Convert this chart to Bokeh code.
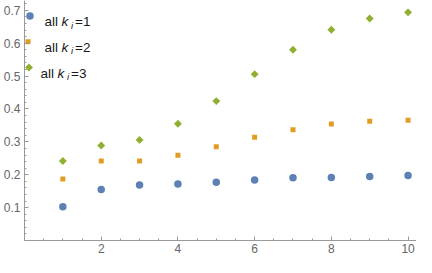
from bokeh.plotting import figure
from bokeh.models import FixedTicker, Range1d, Label
from bokeh.embed import file_html
from bokeh.resources import INLINE
import math

# ---- data ----
n_values = [1, 2, 3, 4, 5, 6, 7, 8, 9, 10]
k1_values = [0.103, 0.155, 0.169, 0.172, 0.177, 0.184, 0.191, 0.192, 0.195, 0.198]
k2_values = [0.187, 0.242, 0.242, 0.259, 0.285, 0.314, 0.337, 0.354, 0.363, 0.366]
k3_values = [0.242, 0.289, 0.306, 0.355, 0.424, 0.506, 0.580, 0.641, 0.675, 0.694]
k_labels = ["1", "2", "3"]
x_ticks = [2, 4, 6, 8, 10]
y_ticks = [0.1, 0.2, 0.3, 0.4, 0.5, 0.6, 0.7]

# ---- styles ----
colors = ["#5E81B5", "#E19C24", "#8FB032"]
FONT = "Liberation Sans"
AXIS_COLOR = "#9a9a9a"
LABEL_COLOR = "#666666"

W, H = 416, 257
BL, BB = 22, 17
X0, X1, Y0, Y1 = 0, 10.22, 0, 0.73

p = figure(width=W, height=H, output_backend="svg", toolbar_location=None,
           x_range=Range1d(X0, X1), y_range=Range1d(Y0, Y1),
           min_border_left=BL, min_border_right=0, min_border_top=0,
           min_border_bottom=BB)
p.outline_line_color = None
p.xgrid.visible = False
p.ygrid.visible = False
p.background_fill_color = "white"
p.border_fill_color = "white"

series = [k1_values, k2_values, k3_values]
marker_styles = [dict(marker="circle", size=7.5, angle=0),
                 dict(marker="square", size=5, angle=0),
                 dict(marker="square", size=5.6, angle=math.pi / 4)]
for vals, col, ms in zip(series, colors, marker_styles):
    p.scatter(n_values, vals, fill_color=col, line_color=None, **ms)

x_minor = [i * 0.5 for i in range(0, 21)]
y_minor = [i * 0.02 for i in range(0, 37)]
p.xaxis.ticker = FixedTicker(ticks=x_ticks, minor_ticks=x_minor)
p.yaxis.ticker = FixedTicker(ticks=y_ticks, minor_ticks=y_minor)

for ax in (p.xaxis, p.yaxis):
    ax.axis_line_color = AXIS_COLOR
    ax.major_tick_line_color = AXIS_COLOR
    ax.minor_tick_line_color = AXIS_COLOR
    ax.major_tick_in = 4
    ax.major_tick_out = 0
    ax.minor_tick_in = 2
    ax.minor_tick_out = 0
    ax.axis_label_standoff = 0
    ax.major_label_text_font = FONT
    ax.major_label_text_font_size = "12px"
    ax.major_label_text_color = LABEL_COLOR
p.yaxis.major_label_standoff = 4
p.xaxis.major_label_standoff = 3

# ---- legend (keys placed from screen-pixel layout, converted via the ranges) ----
frame_left = 24
frame_w = W - frame_left
frame_h = H - BB
pitch = 25.75
key_px = [29.5, 27.5, 28.5]          # key centres, pixels from canvas left
for r, (col, ms) in enumerate(zip(colors, marker_styles)):
    cy = 15.5 + pitch * r            # pixels from frame top
    kx = X0 + (key_px[r] - frame_left) / frame_w * (X1 - X0)
    ky = Y0 + (frame_h - cy) / frame_h * (Y1 - Y0)
    p.scatter([kx], [ky], fill_color=col, line_color=None, **ms)

row_dx = [0, 0, -4]
for r, k in enumerate(k_labels):
    base = frame_h - (21 + pitch * r)
    dx = row_dx[r] - 4
    common = dict(x_units="screen", y_units="screen", text_baseline="alphabetic",
                  text_font=FONT, text_color="#1a1a1a")
    p.add_layout(Label(x=24 + dx, y=base, text="all", text_font_size="13.5px", **common))
    p.add_layout(Label(x=41 + dx, y=base, text="k", text_font_size="13.5px",
                       text_font_style="italic", **common))
    p.add_layout(Label(x=50.5 + dx, y=base - 3.5, text="i", text_font_size="9.5px",
                       text_font_style="italic", **common))
    p.add_layout(Label(x=54.5 + dx, y=base, text="=" + k, text_font_size="13.5px", **common))

open("out.html", "w").write(file_html(p, INLINE))
